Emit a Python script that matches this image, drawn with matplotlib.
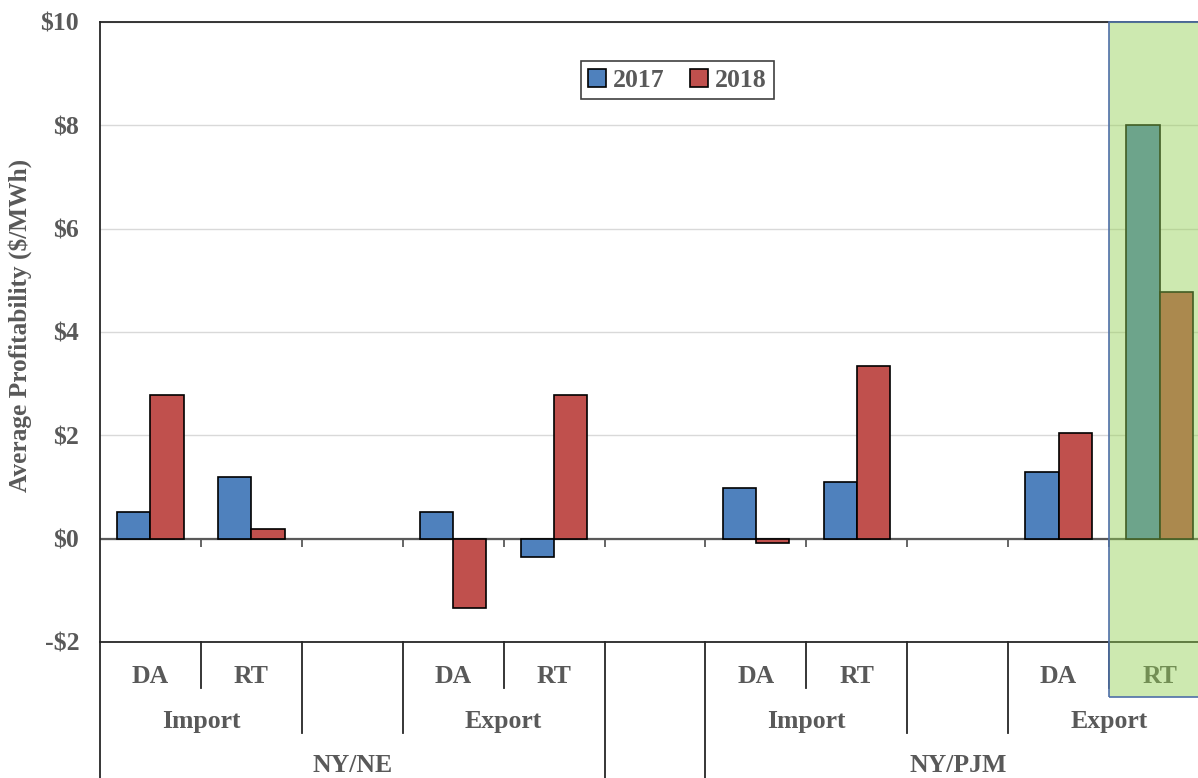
#!/usr/bin/env python
"""
Average profitability of scheduled transactions by interface, 2017 vs 2018.
"""

import numpy as np
import matplotlib
matplotlib.use("Agg")
import matplotlib.pyplot as plt
from matplotlib.patches import Rectangle, Patch
from matplotlib.transforms import blended_transform_factory

# Three-level category axis (None = empty spacer slot)
transaction = ["DA", "RT", None, "DA", "RT", None, "DA", "RT", None, "DA", "RT"]
direction = ["Import", "Import", None, "Export", "Export", None,
             "Import", "Import", None, "Export", "Export"]
interface = ["NY/NE"] * 5 + [None] + ["NY/PJM"] * 5

years = ["2017", "2018"]
profit_2017 = [0.52, 1.20, np.nan, 0.51, -0.35, np.nan, 0.99, 1.09, np.nan, 1.30, 8.00]
profit_2018 = [2.79, 0.18, np.nan, -1.34, 2.79, np.nan, -0.09, 3.34, np.nan, 2.04, 4.77]

yticks = [-2, 0, 2, 4, 6, 8, 10]
ytick_labels = ["-$2", "$0", "$2", "$4", "$6", "$8", "$10"]
highlight = 10  # NY/PJM export RT

blue = "#4F81BD"
red = "#C0504D"
grey = "#595959"
font = "Liberation Serif"
fs = 18.5


def groups(labels):
    """Return (label, start, stop) runs of identical consecutive labels."""
    out = []
    start = 0
    for i in range(1, len(labels) + 1):
        if i == len(labels) or labels[i] != labels[start]:
            out.append((labels[start], start, i))
            start = i
    return out


def plot_profitability():
    fig = plt.figure(figsize=(11.98, 7.78), dpi=100)
    ax = fig.add_axes([100 / 1198, 136 / 778, 1110 / 1198, 620 / 778])
    n = len(transaction)
    x = np.arange(n) + 0.5
    w = 0.33

    ax.set_xlim(0, n)
    ax.set_ylim(-2, 10)
    ax.set_yticks(yticks)
    ax.set_yticklabels(ytick_labels, fontfamily=font, fontweight="bold",
                       fontsize=fs, color=grey)
    ax.tick_params(axis="y", length=0, pad=15)
    ax.set_xticks([])
    ax.grid(axis="y", color="#D9D9D9", lw=1, zorder=0)
    ax.set_axisbelow(True)
    for s in ["top", "left", "bottom"]:
        ax.spines[s].set_color("#262626")
        ax.spines[s].set_linewidth(1.3)
    ax.spines["right"].set_visible(False)
    ax.set_ylabel("Average Profitability ($/MWh)", fontfamily=font,
                  fontweight="bold", fontsize=18.3, color=grey)
    ax.yaxis.set_label_coords(-0.061, 0.511)

    # Zero line with category tick marks
    ax.axhline(0, color=grey, lw=1.6, zorder=2)
    ax.vlines(np.arange(1, n), -0.16, 0, color=grey, lw=1.3, zorder=2)

    ax.bar(x - w / 2, profit_2017, w, color=blue, edgecolor="black", lw=1.2,
           zorder=3, label=years[0])
    ax.bar(x + w / 2, profit_2018, w, color=red, edgecolor="black", lw=1.2,
           zorder=3, label=years[1])

    # Multi-level category labels and separators below the axis
    tr = blended_transform_factory(ax.transData, ax.transAxes)
    lvl_y = {3: -0.074, 2: -0.147, 1: -0.25}
    for i in range(1, n):
        if interface[i] != interface[i - 1]:
            y0 = lvl_y[1]
        elif direction[i] != direction[i - 1]:
            y0 = lvl_y[2]
        else:
            y0 = lvl_y[3]
        ax.plot([i, i], [0, y0], transform=tr, color="#262626", lw=1.3,
                clip_on=False)
    ax.plot([0, 0], [0, -0.25], transform=tr, color="#262626", lw=1.3,
            clip_on=False)

    text_kw = dict(transform=tr, ha="center", va="center", fontfamily=font,
                   fontweight="bold", fontsize=fs, color=grey, clip_on=False)
    for lab, a, b in groups(transaction):
        if lab:
            for i in range(a, b):
                ax.text(i + 0.5, -0.055, lab, **text_kw)
    for lab, a, b in groups(direction):
        if lab:
            ax.text((a + b) / 2, -0.128, lab, **text_kw)
    for lab, a, b in groups(interface):
        if lab:
            ax.text((a + b) / 2, -0.2, lab, **text_kw)

    # Highlight box over the NY/PJM export RT slot
    box = Rectangle((highlight, -0.0887), 1.5, 1.0887, transform=tr,
                    facecolor="#92D050", alpha=0.45, edgecolor="none",
                    zorder=5, clip_on=False)
    ax.add_patch(box)
    edge = Rectangle((highlight, -0.0887), 1.5, 1.0887, transform=tr,
                     facecolor="none", edgecolor="#4F6FA8", lw=1.2,
                     zorder=6, clip_on=False)
    ax.add_patch(edge)

    handles = [Patch(facecolor=blue, edgecolor="black", lw=1.2),
               Patch(facecolor=red, edgecolor="black", lw=1.2)]
    leg = ax.legend(handles, years, loc="center", bbox_to_anchor=(0.52, 0.906),
                    ncol=2, frameon=True, fancybox=False, framealpha=1,
                    handlelength=0.7, handleheight=0.7, handletextpad=0.25,
                    columnspacing=1.0, borderpad=0.3,
                    prop={"family": font, "weight": "bold", "size": fs})
    leg.get_frame().set_edgecolor("#404040")
    leg.get_frame().set_linewidth(1.2)
    for t in leg.get_texts():
        t.set_color(grey)

    fig.savefig("out.png", dpi=100)


if __name__ == "__main__":
    plot_profitability()
